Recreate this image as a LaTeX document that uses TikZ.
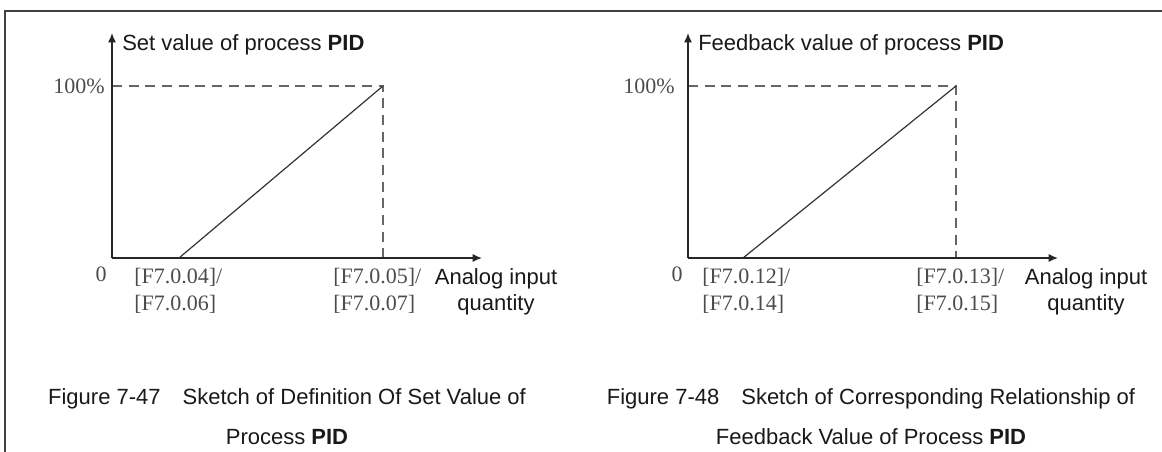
\documentclass[tikz,border=0pt]{standalone}
\usepackage{fontspec}
\setmainfont{Liberation Serif}
\setsansfont{Liberation Sans}
\usetikzlibrary{arrows.meta}

\tikzset{
    frame/.style={draw=black!75, line width=2.2pt},
    axis/.style={draw=black!85, line width=1.1pt, -{Latex[length=7pt,width=6pt]}},
    guide/.style={draw=black!60, line width=1.1pt, dash pattern=on 7.5pt off 5pt},
    ramp/.style={draw=black!80, line width=0.9pt},
    ticklabel/.style={font=\fontsize{16.5}{20.5}\selectfont, text=black!70, inner sep=0pt},
    sanslabel/.style={font=\sffamily\fontsize{16.5}{19.5}\selectfont, text=black!90, inner sep=0pt},
    caption/.style={font=\sffamily\fontsize{16.5}{30}\selectfont, text=black!90, inner sep=0pt, align=center}
}

\begin{document}
\begin{tikzpicture}[x=0.75pt, y=-0.75pt]
    \useasboundingbox (0,0) rectangle (1162,452);
    \fill[white] (0,0) rectangle (1162,452);
    \draw[frame] (5,452) -- (5,11) -- (1162,11);

    % left: set value
    \coordinate (oA) at (112,258);
    \coordinate (yA) at (112,33);
    \coordinate (xA) at (482,258);
    \coordinate (topA) at (383,86);
    \coordinate (startA) at (179,258);

    \draw[guide] (oA |- topA) -- (topA) -- (topA |- oA);
    \draw[axis] (oA) -- (yA);
    \draw[axis] (oA) -- (xA);
    \draw[ramp] (startA) -- (topA);

    \node[sanslabel, anchor=west] (titleA) at (122,45) {Set value of process \textbf{PID}};
    \node[ticklabel, anchor=east] (fullA) at (105,86) {100\%};
    \node[ticklabel] (zeroA) at (101,274) {0};
    \node[ticklabel, align=left, anchor=north west] (lowA) at (134,268) {[F7.0.04]/\\{[F7.0.06]}};
    \node[ticklabel, align=left, anchor=north west] (highA) at (333,268) {[F7.0.05]/\\{[F7.0.07]}};
    \node[sanslabel, align=center, anchor=north] (inA) at (496,268) {Analog input\\quantity};

    \node[caption] (capA) at (287,417) {Figure 7-47\quad Sketch of Definition Of Set Value of\\Process \textbf{PID}};

    % right: feedback value
    \coordinate (oB) at (688,258);
    \coordinate (yB) at (688,33);
    \coordinate (xB) at (1058,258);
    \coordinate (topB) at (956,86);
    \coordinate (startB) at (743,258);

    \draw[guide] (oB |- topB) -- (topB) -- (topB |- oB);
    \draw[axis] (oB) -- (yB);
    \draw[axis] (oB) -- (xB);
    \draw[ramp] (startB) -- (topB);

    \node[sanslabel, anchor=west] (titleB) at (698,45) {Feedback value of process \textbf{PID}};
    \node[ticklabel, anchor=east] (fullB) at (675,86) {100\%};
    \node[ticklabel] (zeroB) at (677,274) {0};
    \node[ticklabel, align=left, anchor=north west] (lowB) at (702,268) {[F7.0.12]/\\{[F7.0.14]}};
    \node[ticklabel, align=left, anchor=north west] (highB) at (916,268) {[F7.0.13]/\\{[F7.0.15]}};
    \node[sanslabel, align=center, anchor=north] (inB) at (1086,268) {Analog input\\quantity};

    \node[caption] (capB) at (871,417) {Figure 7-48\quad Sketch of Corresponding Relationship of\\Feedback Value of Process \textbf{PID}};
\end{tikzpicture}
\end{document}
